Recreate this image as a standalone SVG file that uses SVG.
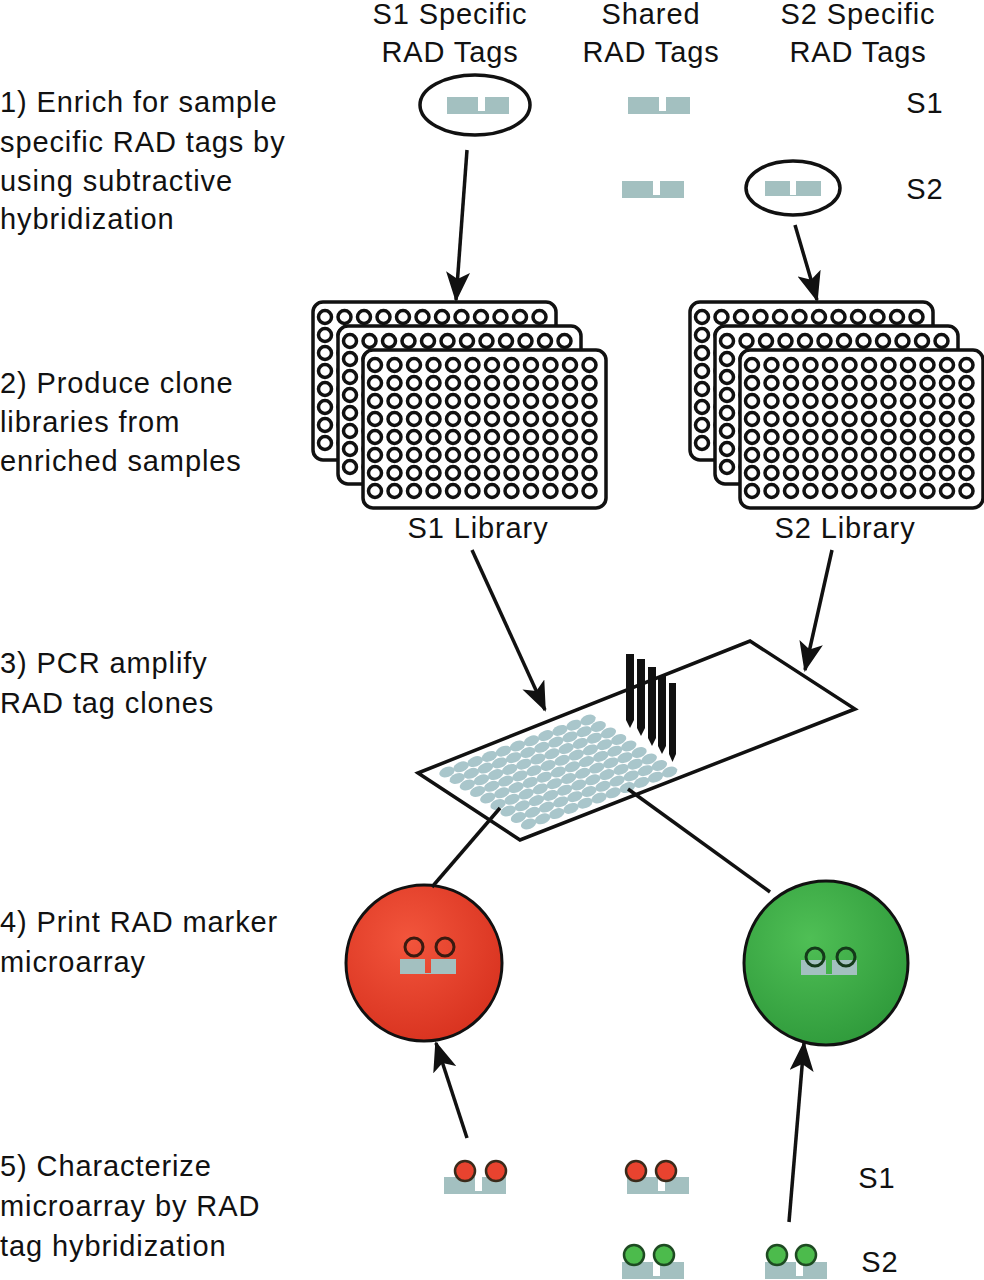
<svg xmlns="http://www.w3.org/2000/svg" xmlns:xlink="http://www.w3.org/1999/xlink" width="984" height="1280" viewBox="0 0 984 1280">
<style>
text{font-family:"Liberation Sans",Arial,sans-serif;font-size:29px;letter-spacing:0.9px;fill:#111}
.c{text-anchor:middle}
.ln{stroke:#111;stroke-width:3.5;fill:none}
.arr{stroke:#111;stroke-width:3.5;fill:none;marker-end:url(#ah)}
.plate{fill:#fff;stroke:#111;stroke-width:3.5}
.well{fill:none;stroke:#111;stroke-width:3.5}
.tag{fill:#a3c0c0}
.spot{fill:#a9c6cb}
.rb{fill:#e8432f;stroke:#3a2a1a;stroke-width:2.5}
.gb{fill:#4cbb4c;stroke:#1e4a22;stroke-width:2.5}
</style>
<defs>
<marker id="ah" viewBox="0 0 30 24" refX="28" refY="12" markerWidth="30" markerHeight="24" markerUnits="userSpaceOnUse" orient="auto">
<path d="M0 0 L30 12 L0 24 L7 12 Z" fill="#111"/>
</marker>
<path id="tag" class="tag" d="M0 0 H31 V14 H38 V0 H62 V17 H0 Z"/>
<path id="tag2" class="tag" d="M0 0 H25 V14 H31 V0 H56 V15 H0 Z"/>
<g id="row">
<circle class="well" cx="0" cy="0" r="6.5"/><circle class="well" cx="19.5" cy="0" r="6.5"/><circle class="well" cx="39" cy="0" r="6.5"/><circle class="well" cx="58.5" cy="0" r="6.5"/><circle class="well" cx="78" cy="0" r="6.5"/><circle class="well" cx="97.5" cy="0" r="6.5"/><circle class="well" cx="117" cy="0" r="6.5"/><circle class="well" cx="136.5" cy="0" r="6.5"/><circle class="well" cx="156" cy="0" r="6.5"/><circle class="well" cx="175.5" cy="0" r="6.5"/><circle class="well" cx="195" cy="0" r="6.5"/><circle class="well" cx="214.5" cy="0" r="6.5"/>
</g>
<g id="grid">
<use href="#row" y="0"/><use href="#row" y="18"/><use href="#row" y="36"/><use href="#row" y="54"/><use href="#row" y="72"/><use href="#row" y="90"/><use href="#row" y="108"/><use href="#row" y="126"/>
</g>
<g id="plate">
<rect class="plate" x="0" y="0" width="243" height="158" rx="10"/>
<use href="#grid" x="12" y="15"/>
</g>
<g id="srow">
<ellipse class="spot" cx="0" cy="0" rx="8" ry="5" transform="rotate(-21)"/>
<ellipse class="spot" cx="10.2" cy="6.5" rx="8" ry="5" transform="rotate(-21 10.2 6.5)"/>
<ellipse class="spot" cx="20.4" cy="13" rx="8" ry="5" transform="rotate(-21 20.4 13)"/>
<ellipse class="spot" cx="30.6" cy="19.5" rx="8" ry="5" transform="rotate(-21 30.6 19.5)"/>
<ellipse class="spot" cx="40.8" cy="26" rx="8" ry="5" transform="rotate(-21 40.8 26)"/>
<ellipse class="spot" cx="51" cy="32.5" rx="8" ry="5" transform="rotate(-21 51 32.5)"/>
<ellipse class="spot" cx="61.2" cy="39" rx="8" ry="5" transform="rotate(-21 61.2 39)"/>
<ellipse class="spot" cx="71.4" cy="45.5" rx="8" ry="5" transform="rotate(-21 71.4 45.5)"/>
<ellipse class="spot" cx="81.6" cy="52" rx="8" ry="5" transform="rotate(-21 81.6 52)"/>
</g>
<radialGradient id="rg" cx="0.4" cy="0.35" r="0.7"><stop offset="0" stop-color="#f2553c"/><stop offset="1" stop-color="#d8321f"/></radialGradient>
<radialGradient id="gg" cx="0.4" cy="0.35" r="0.7"><stop offset="0" stop-color="#4fbf55"/><stop offset="1" stop-color="#2f9a3b"/></radialGradient>
</defs>

<g id="labels">
<text x="0" y="112">1) Enrich for sample</text>
<text x="0" y="152">specific RAD tags by</text>
<text x="0" y="191">using subtractive</text>
<text x="0" y="229">hybridization</text>
<text x="0" y="393">2) Produce clone</text>
<text x="0" y="432">libraries from</text>
<text x="0" y="471">enriched samples</text>
<text x="0" y="673">3) PCR amplify</text>
<text x="0" y="713">RAD tag clones</text>
<text x="0" y="932">4) Print RAD marker</text>
<text x="0" y="972">microarray</text>
<text x="0" y="1176">5) Characterize</text>
<text x="0" y="1216">microarray by RAD</text>
<text x="0" y="1256">tag hybridization</text>
<text class="c" x="450" y="24">S1 Specific</text>
<text class="c" x="450" y="62">RAD Tags</text>
<text class="c" x="651" y="24">Shared</text>
<text class="c" x="651" y="62">RAD Tags</text>
<text class="c" x="858" y="24">S2 Specific</text>
<text class="c" x="858" y="62">RAD Tags</text>
<text class="c" x="925" y="113">S1</text>
<text class="c" x="925" y="199">S2</text>
<text class="c" x="877" y="1188">S1</text>
<text class="c" x="880" y="1272">S2</text>
</g>

<g id="tags-top">
<use href="#tag" x="447" y="97"/>
<ellipse class="ln" cx="475" cy="105" rx="55" ry="30"/>
<use href="#tag" x="628" y="97"/>
<use href="#tag" x="622" y="181"/>
<use href="#tag2" x="765" y="181"/>
<ellipse class="ln" cx="793" cy="188" rx="47" ry="27"/>
</g>

<g id="s1-library">
<use href="#plate" x="313" y="302"/>
<use href="#plate" x="338" y="326"/>
<use href="#plate" x="363" y="350"/>
<text class="c" x="478" y="538">S1 Library</text>
</g>
<g id="s2-library">
<use href="#plate" x="690" y="302"/>
<use href="#plate" x="715" y="326"/>
<use href="#plate" x="740" y="350"/>
<text class="c" x="845" y="538">S2 Library</text>
</g>

<g id="slide">
<path class="ln" d="M418 773 L520 840 L855 709 L750 641 Z" fill="#fff"/>
<use href="#srow" x="447" y="772"/><use href="#srow" x="461.1" y="766.8"/><use href="#srow" x="475.2" y="761.6"/><use href="#srow" x="489.3" y="756.4"/><use href="#srow" x="503.4" y="751.2"/><use href="#srow" x="517.5" y="746"/><use href="#srow" x="531.6" y="740.8"/><use href="#srow" x="545.7" y="735.6"/><use href="#srow" x="559.8" y="730.4"/><use href="#srow" x="573.9" y="725.2"/><use href="#srow" x="588" y="720"/>
<g fill="#111">
<path d="M626 654 H634 V720 L630 728 L626 720 Z"/>
<path d="M637 659 H645 V728 L641 736 L637 728 Z"/>
<path d="M648 667 H656 V738 L652 746 L648 738 Z"/>
<path d="M658 676 H666 V746 L662 754 L658 746 Z"/>
<path d="M669 683 H676 V754 L672.5 762 L669 754 Z"/>
</g>
</g>

<g id="red-array">
<circle cx="424" cy="963" r="78" fill="url(#rg)" stroke="#111" stroke-width="3"/>
<use href="#tag2" x="400" y="959"/>
<circle cx="414" cy="947" r="9" fill="none" stroke="#3a1a10" stroke-width="3"/>
<circle cx="445" cy="947" r="9" fill="none" stroke="#3a1a10" stroke-width="3"/>
</g>
<g id="green-array">
<circle cx="826" cy="963" r="82" fill="url(#gg)" stroke="#111" stroke-width="3"/>
<use href="#tag2" x="801" y="960"/>
<circle cx="815" cy="957" r="9" fill="none" stroke="#143a1a" stroke-width="3"/>
<circle cx="846" cy="957" r="9" fill="none" stroke="#143a1a" stroke-width="3"/>
</g>

<g id="tags-bottom">
<use href="#tag" x="444" y="1177"/>
<circle class="rb" cx="465" cy="1171" r="10"/><circle class="rb" cx="496" cy="1171" r="10"/>
<use href="#tag" x="627" y="1177"/>
<circle class="rb" cx="636" cy="1171" r="10"/><circle class="rb" cx="666" cy="1171" r="10"/>
<use href="#tag" x="622" y="1262"/>
<circle class="gb" cx="634" cy="1255" r="10"/><circle class="gb" cx="664" cy="1255" r="10"/>
<use href="#tag" x="765" y="1262"/>
<circle class="gb" cx="777" cy="1255" r="10"/><circle class="gb" cx="806" cy="1255" r="10"/>
</g>

<g id="connectors">
<path class="arr" d="M467 150 L456 300"/>
<path class="arr" d="M795 225 L817 300"/>
<path class="arr" d="M472 550 L545 710"/>
<path class="arr" d="M832 550 L805 670"/>
<path class="ln" d="M500 808 L432 887"/>
<path class="ln" d="M628 789 L770 892"/>
<path class="arr" d="M467 1138 L436 1043"/>
<path class="arr" d="M789 1222 L804 1043"/>
</g>
</svg>
